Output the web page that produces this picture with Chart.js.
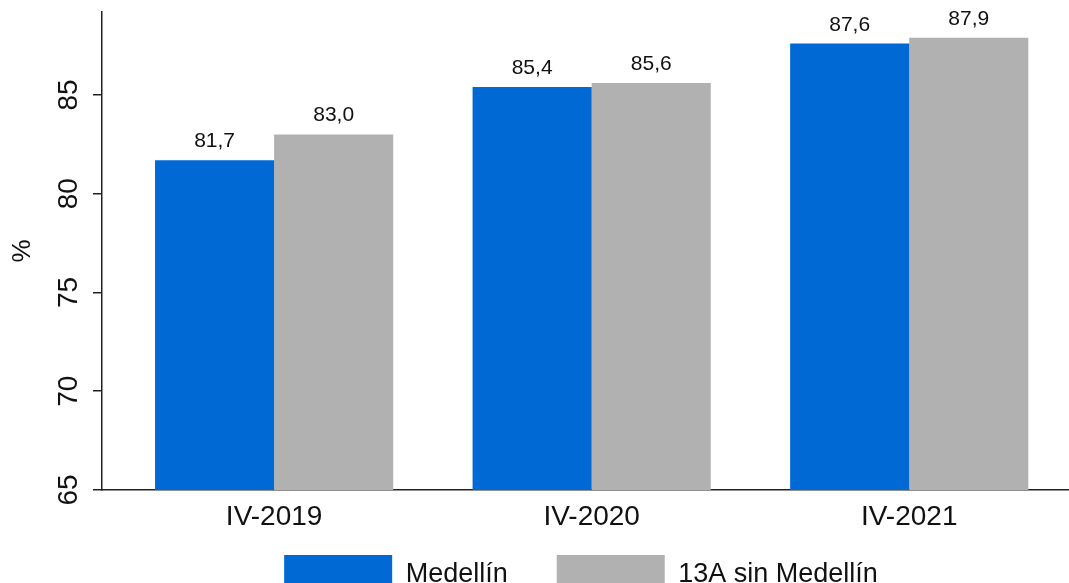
<!DOCTYPE html>
<html>
<head>
<meta charset="utf-8">
<script src="https://cdn.jsdelivr.net/npm/chart.js@4/dist/chart.umd.min.js"></script>
<style>
  html, body { margin: 0; padding: 0; background: #fff; overflow: hidden; }
  #wrap { width: 1069px; height: 583px; overflow: hidden; }
</style>
</head>
<body>
<div id="wrap"><canvas id="chart" width="1069" height="634"></canvas></div>
<script>
// Datos
const categories = ['IV-2019', 'IV-2020', 'IV-2021'];
const medellin = [81.7, 85.4, 87.6];
const sinMedellin = [83.0, 85.6, 87.9];
const seriesNames = ['Medellín', '13A sin Medellín'];
const yMin = 65;
const yMax = 89.2;
const yStep = 5;

const FONT = "'Liberation Sans', Arial, sans-serif";
const AXIS = '#222';

// Etiquetas encima de las barras (coma decimal)
const barLabels = {
    id: 'barLabels',
    afterDatasetsDraw(chart) {
        const ctx = chart.ctx;
        ctx.save();
        ctx.beginPath();
        ctx.rect(0, chart.chartArea.top - 2, chart.width, chart.height);
        ctx.clip();
        ctx.font = '21px ' + FONT;
        ctx.fillStyle = '#111';
        ctx.textAlign = 'center';
        ctx.textBaseline = 'alphabetic';
        chart.data.datasets.forEach(function(ds, i) {
            chart.getDatasetMeta(i).data.forEach(function(bar, j) {
                const txt = ds.data[j].toFixed(1).replace('.', ',');
                ctx.fillText(txt, bar.x, bar.y - 13);
            });
        });
        ctx.restore();
    }
};

// Ajustes de posicion: eje x empieza un poco antes de la primera categoria,
// leyenda algo mas arriba
const tweakLayout = {
    id: 'tweakLayout',
    afterLayout(chart) {
        const x = chart.scales.x;
        x._startValue -= 0.042;
        x._valueRange += 0.042;
        const lg = chart.legend;
        const dy = (x.top + 16) - lg.top;
        lg.top += dy;
        lg.bottom += dy;
        lg.left -= 4;
        lg.right -= 4;
    }
};

new Chart(document.getElementById('chart'), {
    type: 'bar',
    data: {
        labels: categories,
        datasets: [{
            label: seriesNames[0],
            data: medellin,
            backgroundColor: 'rgb(0, 105, 212)',
            categoryPercentage: 0.75,
            barPercentage: 1
        }, {
            label: seriesNames[1],
            data: sinMedellin,
            backgroundColor: 'rgb(177, 177, 177)',
            categoryPercentage: 0.75,
            barPercentage: 1
        }]
    },
    options: {
        responsive: false,
        animation: false,
        devicePixelRatio: 1,
        layout: { padding: { top: 12, right: 1, left: 0, bottom: 0 } },
        plugins: {
            tooltip: { enabled: false },
            legend: {
                position: 'bottom',
                fullSize: false,
                labels: {
                    boxWidth: 108,
                    boxHeight: 40,
                    padding: 49,
                    color: '#111',
                    font: { family: FONT, size: 27 }
                }
            }
        },
        scales: {
            x: {
                grid: { display: false, drawTicks: false },
                border: { display: true, color: AXIS, width: 1.5 },
                ticks: { color: '#111', padding: 10, font: { family: FONT, size: 28 } },
                afterFit(scale) { scale.height = 45; }
            },
            y: {
                min: yMin,
                max: yMax,
                title: {
                    display: true,
                    text: '%',
                    color: '#111',
                    padding: { top: 7, bottom: 0 },
                    font: { family: FONT, size: 26 }
                },
                grid: { drawOnChartArea: false, drawTicks: true, tickLength: 9, color: AXIS, lineWidth: 1.5 },
                border: { display: true, color: AXIS, width: 1.5 },
                ticks: {
                    stepSize: yStep,
                    includeBounds: false,
                    minRotation: 90,
                    maxRotation: 90,
                    crossAlign: 'center',
                    padding: 8,
                    color: '#111',
                    font: { family: FONT, size: 28 }
                },
                afterFit(scale) {
                    scale.width = 102;
                    scale.paddingTop = 0;
                    scale.paddingBottom = 0;
                }
            }
        }
    },
    plugins: [barLabels, tweakLayout]
});
</script>
</body>
</html>
